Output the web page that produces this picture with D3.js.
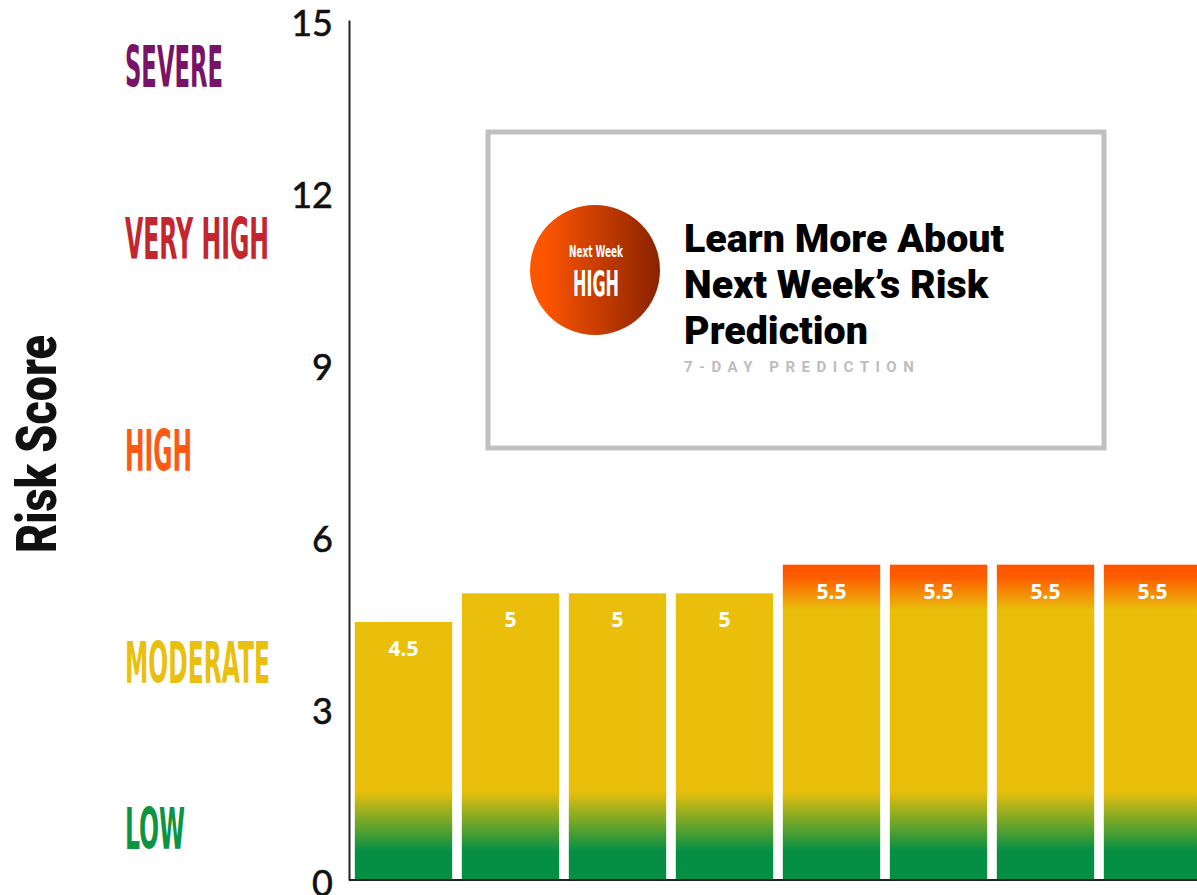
<!DOCTYPE html>
<html>
<head>
<meta charset="utf-8">
<script src="https://cdn.jsdelivr.net/npm/d3@7"></script>
<style>
	body { margin: 0; background: #fff; }
	svg { display: block; }
</style>
</head>
<body>
<div id="chart"></div>
<script>
// data
var days = ['Day 1', 'Day 2', 'Day 3', 'Day 4', 'Day 5', 'Day 6', 'Day 7', 'Day 8'];
var scores = [4.5, 5, 5, 5, 5.5, 5.5, 5.5, 5.5];
var dayLevels = ['MODERATE', 'MODERATE', 'MODERATE', 'MODERATE', 'HIGH', 'HIGH', 'HIGH', 'HIGH'];
var yTicks = [0, 3, 6, 9, 12, 15];
var levelNames = ['LOW', 'MODERATE', 'HIGH', 'VERY HIGH', 'SEVERE'];
var levelLabelAt = [0.9, 3.8, 7.5, 11.2, 14.2];
var levelColors = ['#0b9444', '#e9bf10', '#fe5a12', '#c3262e', '#781467'];

var width = 1197;
var height = 895;
// squeezed widths of the condensed level labels (px)
var levelLabelWidth = {'LOW': 60, 'MODERATE': 145, 'HIGH': 67, 'VERY HIGH': 144, 'SEVERE': 98};

var svg = d3.select('#chart')
	.append('svg')
	.attr('width', width)
	.attr('height', height);

var y = d3.scaleLinear()
	.domain([0, 15])
	.range([880, 20]);

var x = d3.scaleBand()
	.domain(days)
	.range([350, 1206])
	.paddingInner(0.09)
	.paddingOuter(0.045);

var defs = svg.append('defs');

// one gradient per bar, laid along the bar's own height
days.forEach(function(d, i){
	var g = defs.append('linearGradient')
		.attr('id', 'bar' + i)
		.attr('gradientUnits', 'userSpaceOnUse')
		.attr('x1', 0).attr('x2', 0)
		.attr('y1', y(scores[i]))
		.attr('y2', y(0));
	var h = y(0) - y(scores[i]);
	function off(v){ return (y(v) - y(scores[i])) / h; }
	var stops = [];
	if (dayLevels[i] === 'HIGH') {
		stops.push([0, '#ff5500']);
		stops.push([off(scores[i] - 0.2), '#ff5a00']);
		stops.push([off(scores[i] - 0.8), '#e9bf0b']);
	} else {
		stops.push([0, '#e9bf0b']);
	}
	stops.push([off(1.55), '#e9bf0b']);
	stops.push([off(0.5), '#048f45']);
	stops.push([1, '#048f45']);
	g.selectAll('stop')
		.data(stops)
		.enter()
		.append('stop')
		.attr('offset', function(s){ return s[0]; })
		.attr('stop-color', function(s){ return s[1]; });
});

var circleGrad = defs.append('linearGradient')
	.attr('id', 'circleGrad')
	.attr('x1', 0).attr('x2', 1).attr('y1', 0).attr('y2', 0);
circleGrad.append('stop').attr('offset', 0.1).attr('stop-color', '#fe5500');
circleGrad.append('stop').attr('offset', 1).attr('stop-color', '#8a2200');

// bars
svg.selectAll('.bar')
	.data(scores)
	.enter()
	.append('rect')
	.attr('class', 'bar')
	.attr('x', function(d, i){ return x(days[i]); })
	.attr('y', function(d){ return y(d); })
	.attr('width', x.bandwidth())
	.attr('height', function(d){ return y(0) - y(d); })
	.attr('fill', function(d, i){ return 'url(#bar' + i + ')'; });

svg.selectAll('.value')
	.data(scores)
	.enter()
	.append('text')
	.attr('class', 'value')
	.attr('x', function(d, i){ return x(days[i]) + x.bandwidth() / 2; })
	.attr('y', function(d){ return y(d) + 34; })
	.attr('text-anchor', 'middle')
	.attr('fill', '#fff')
	.style('font-family', '"Open Sans", sans-serif')
	.style('font-weight', 700)
	.style('font-size', '21px')
	.text(function(d){ return d; });

// axes
var yAxis = svg.append('g')
	.attr('transform', 'translate(349,0)')
	.call(d3.axisLeft(y).tickValues(yTicks).tickSize(0).tickPadding(16));
yAxis.select('.domain').attr('stroke', '#222').attr('stroke-width', 2);
yAxis.selectAll('text')
	.attr('fill', '#111')
	.attr('dy', '0.42em')
	.style('font-family', 'Lato, sans-serif')
	.style('font-size', '36px')
	.style('stroke', '#111')
	.style('stroke-width', 0.6);

var xAxis = svg.append('g')
	.attr('transform', 'translate(0,' + y(0) + ')')
	.call(d3.axisBottom(x).tickSize(0).tickFormat(''));
xAxis.select('.domain')
	.attr('d', 'M349,0H' + width)
	.attr('stroke', '#222')
	.attr('stroke-width', 2);

// risk level labels on the left
svg.selectAll('.level')
	.data(levelNames)
	.enter()
	.append('text')
	.attr('class', 'level')
	.attr('x', 125)
	.attr('y', function(d, i){ return y(levelLabelAt[i]) + 21; })
	.attr('fill', function(d, i){ return levelColors[i]; })
	.attr('textLength', function(d){ return levelLabelWidth[d]; })
	.attr('lengthAdjust', 'spacingAndGlyphs')
	.style('font-family', '"DejaVu Sans Condensed", "DejaVu Sans", sans-serif')
	.style('font-weight', 700)
	.style('font-size', '57px')
	.text(function(d){ return d; });

svg.append('text')
	.attr('transform', 'translate(56,444) rotate(-90)')
	.attr('text-anchor', 'middle')
	.attr('textLength', 218)
	.attr('lengthAdjust', 'spacingAndGlyphs')
	.attr('fill', '#111')
	.style('font-family', 'Roboto, sans-serif')
	.style('font-weight', 900)
	.style('font-size', '56px')
	.text('Risk Score');

// prediction card
var card = svg.append('g');
card.append('rect')
	.attr('x', 488).attr('y', 132)
	.attr('width', 616).attr('height', 316)
	.attr('fill', '#fff')
	.attr('stroke', '#c0c0c0')
	.attr('stroke-width', 5);
card.append('circle')
	.attr('cx', 595).attr('cy', 270).attr('r', 65)
	.attr('fill', 'url(#circleGrad)');
card.append('text')
	.attr('x', 596).attr('y', 257)
	.attr('text-anchor', 'middle')
	.attr('textLength', 54)
	.attr('lengthAdjust', 'spacingAndGlyphs')
	.attr('fill', '#fff')
	.style('font-family', '"DejaVu Sans Condensed", sans-serif')
	.style('font-weight', 700)
	.style('font-size', '16px')
	.text('Next Week');
card.append('text')
	.attr('x', 596).attr('y', 296)
	.attr('text-anchor', 'middle')
	.attr('textLength', 46)
	.attr('lengthAdjust', 'spacingAndGlyphs')
	.attr('fill', '#fff')
	.style('font-family', '"DejaVu Sans Condensed", sans-serif')
	.style('font-weight', 700)
	.style('font-size', '35px')
	.text('HIGH');

var heading = ['Learn More About', 'Next Week\u2019s Risk', 'Prediction'];
card.selectAll('.heading')
	.data(heading)
	.enter()
	.append('text')
	.attr('class', 'heading')
	.attr('x', 684)
	.attr('y', function(d, i){ return 252 + i * 46; })
	.attr('fill', '#000')
	.style('font-family', 'Roboto, sans-serif')
	.style('font-weight', 900)
	.style('font-size', '39.4px')
	.text(function(d){ return d; });

card.append('text')
	.attr('x', 684).attr('y', 372)
	.attr('fill', '#bdbdbd')
	.style('font-family', 'Roboto, sans-serif')
	.style('font-weight', 700)
	.style('font-size', '15px')
	.style('letter-spacing', '6.5px')
	.text('7-DAY PREDICTION');
</script>
</body>
</html>
